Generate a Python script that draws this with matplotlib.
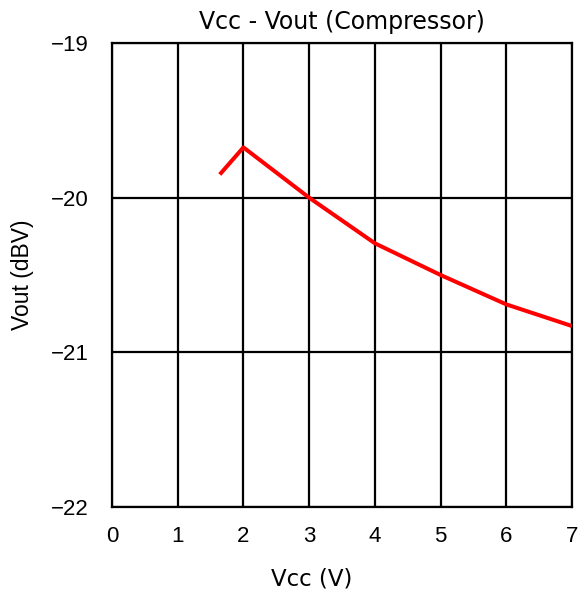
import matplotlib
matplotlib.use("Agg")
import matplotlib.pyplot as plt

vcc = [1.64, 2.0, 3.0, 4.0, 5.0, 6.0, 7.0]
vout = [-19.85, -19.675, -20.0, -20.295, -20.50, -20.69, -20.83]
xticks = [0, 1, 2, 3, 4, 5, 6, 7]
yticks = [-22, -21, -20, -19]

plt.rcParams['font.family'] = ['Liberation Sans', 'DejaVu Sans']
fig = plt.figure(figsize=(5.8, 5.92), dpi=100)
ax = fig.add_axes([112/580, 1-507/592, 460/580, 464/592])

ax.plot(vcc, vout, color='#ff0000', lw=2.9, solid_capstyle='butt', zorder=3)
ax.set_xlim(0, 7)
ax.set_ylim(-22, -19)
ax.set_xticks(xticks)
ax.set_yticks(yticks)
ax.grid(True, color='black', lw=1.6)
for s in ax.spines.values():
    s.set_linewidth(1.6)
    s.set_color('black')
ax.tick_params(length=0, labelsize=16)
ax.tick_params(axis='x', pad=14)
ax.tick_params(axis='y', pad=17)
ax.set_title('Vcc - Vout (Compressor)', fontsize=17, pad=10, family='DejaVu Sans')
ax.set_xlabel('Vcc (V)', fontsize=16.5, family='DejaVu Sans')
ax.xaxis.set_label_coords((312 - 112) / 460, -0.13)
ax.set_ylabel('Vout (dBV)', fontsize=16.5, labelpad=12)
fig.savefig('out.png', dpi=100)
